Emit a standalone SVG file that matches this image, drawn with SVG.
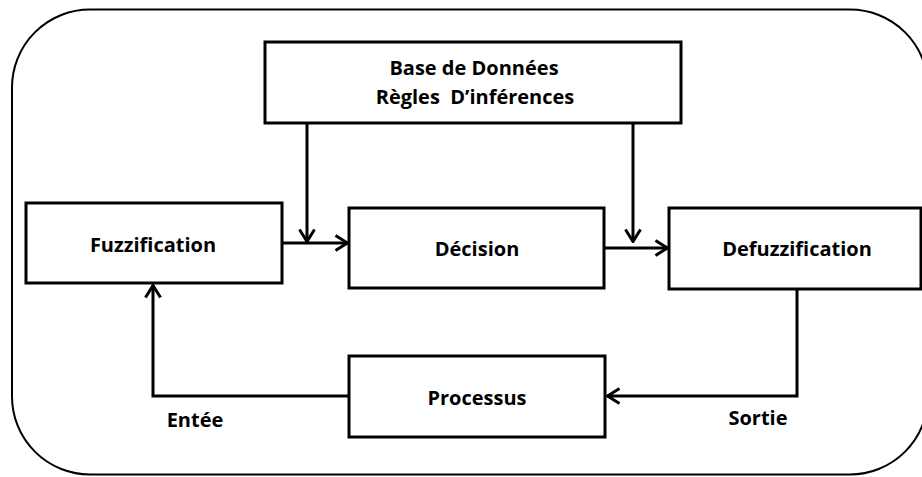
<svg xmlns="http://www.w3.org/2000/svg" width="922" height="477" viewBox="0 0 922 477">
<style>
.box{fill:#fff;stroke:#000;stroke-width:3}
.t{font-family:"Open Sans","Liberation Sans",sans-serif;font-weight:bold;font-size:20px;fill:#000;text-anchor:middle;white-space:pre}
.c{fill:none;stroke:#000;stroke-width:3;marker-end:url(#ah)}
</style>
<defs>
<marker id="ah" viewBox="0 0 15 18" refX="14" refY="9" markerWidth="15" markerHeight="18" markerUnits="userSpaceOnUse" orient="auto">
<path d="M1.5,1.5 L13.5,9 L1.5,16.5" fill="none" stroke="#000" stroke-width="3"/>
</marker>
</defs>
<rect width="922" height="477" fill="#fff"/>
<rect id="frame" x="12" y="9.5" width="916" height="465" rx="78" ry="78" fill="none" stroke="#000" stroke-width="2"/>
<g id="base">
<rect class="box" x="265" y="42" width="416" height="81"/>
<text class="t" x="474" y="75">Base de Données</text>
<text class="t" x="475" y="104">Règles  D’inférences</text>
</g>
<g id="fuzzification">
<rect class="box" x="26" y="203" width="256" height="80"/>
<text class="t" x="153" y="252">Fuzzification</text>
</g>
<g id="decision">
<rect class="box" x="349" y="208" width="255" height="80"/>
<text class="t" x="477" y="256">Décision</text>
</g>
<g id="defuzzification">
<rect class="box" x="669" y="208" width="252" height="81"/>
<text class="t" x="797" y="256">Defuzzification</text>
</g>
<g id="processus">
<rect class="box" x="349" y="356" width="256" height="81"/>
<text class="t" x="477" y="405">Processus</text>
</g>
<g id="connectors">
<path class="c" d="M307,123 V242"/>
<path class="c" d="M633,123 V242"/>
<path class="c" d="M282,243 H348"/>
<path class="c" d="M604,248 H668"/>
<path class="c" d="M797,289 V396 H607"/>
<path class="c" d="M349,396 H153 V285"/>
</g>
<text class="t" x="195" y="427">Entée</text>
<text class="t" x="758" y="425">Sortie</text>
</svg>
